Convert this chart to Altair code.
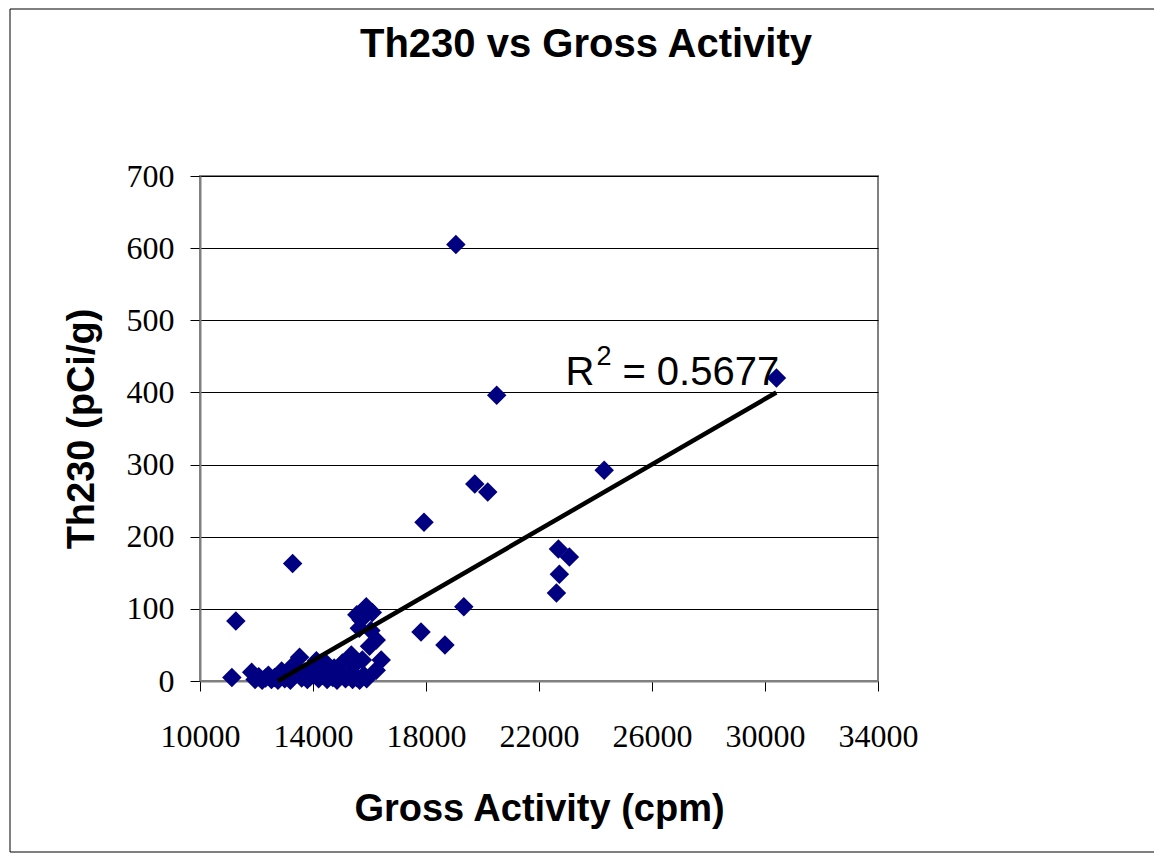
import altair as alt
import pandas as pd

# Scatter data: Gross Activity (cpm) vs Th230 (pCi/g)
gross = [
    19057, 20502, 30405, 24308, 19727, 20185, 17930, 13278, 11269, 22687,
    23075, 22722, 22617, 19339, 17824, 18670, 11128,
    15550, 15885, 16100, 15700, 15639, 16050, 16238, 16000, 16414, 16238,
    15357, 15450, 13524, 13300, 14450, 14250, 14750,
    11830, 11950, 12080, 12200, 12320, 12420, 12530, 12640, 12760, 12890,
    13000, 13100, 13200, 13400, 13600, 13700, 13800, 13900, 14000, 14120,
    14200, 14350, 14500, 14600, 14700, 14850, 15000, 15040, 15150, 15250,
    15400, 15550, 15650, 15745, 15800, 15900,
]
th230 = [
    605, 396, 420, 292, 273, 262, 220, 163, 83, 183,
    172, 148, 122, 103, 68, 50, 5,
    92, 103, 95, 85, 73, 70, 57, 48, 29, 15,
    36, 22, 33, 22, 25, 15, 18,
    12, 2, 6, 1, 4, 8, 2, 5, 1, 14,
    3, 7, 1, 10, 4, 12, 2, 6, 18, 28,
    3, 8, 2, 12, 5, 1, 9, 25, 3, 7,
    2, 5, 1, 29, 8, 3,
]

# Linear trend line (as drawn, clipped at y = 0)
trend_x = [12750, 30400]
trend_y = [0, 400]

# R² annotation (anchored in data space)
r2_x = [22934]
r2_y = [410]
r2_main = ["R"]
r2_sup = ["2"]
r2_value = ["= 0.5677"]

x_ticks = [10000, 14000, 18000, 22000, 26000, 30000, 34000]
y_ticks = [0, 100, 200, 300, 400, 500, 600, 700]

pts = pd.DataFrame({"gross": gross, "th230": th230})
trend = pd.DataFrame({"gross": trend_x, "th230": trend_y})
r2 = pd.DataFrame({"gross": r2_x, "th230": r2_y, "r": r2_main, "s": r2_sup, "v": r2_value})
one = pd.DataFrame({"t": ["Th230 vs Gross Activity"]})

W, H = 678, 505
PAD_B = 172
PAD_R = 276

xscale = alt.Scale(domain=[10000, 34000], nice=False, zero=False)
yscale = alt.Scale(domain=[0, 700], nice=False)

xaxis = alt.Axis(
    values=x_ticks, format="d", title="Gross Activity (cpm)", grid=False,
    labelFont="Liberation Serif", labelFontSize=32, labelColor="black",
    labelPadding=30, tickSize=10, tickColor="black", labelFlush=False,
    domainColor="#808080", domainWidth=2,
    titleFont="Liberation Sans", titleFontSize=38, titleFontWeight="bold",
    titleColor="black", titleX=W / 2, titleY=139, titleBaseline="alphabetic",
    titleAnchor="middle", labelOverlap=False,
)
yaxis = alt.Axis(
    values=y_ticks, format="d", title="Th230 (pCi/g)", grid=True,
    gridColor="#000000", gridWidth=1, labelFlush=False,
    labelFont="Liberation Serif", labelFontSize=32, labelColor="black",
    labelPadding=16, tickSize=10, tickColor="black",
    domainColor="#808080", domainWidth=2,
    titleFont="Liberation Sans", titleFontSize=38, titleFontWeight="bold",
    titleColor="black", titleAngle=270, titleX=-107, titleY=H / 2,
    titleBaseline="alphabetic", titleAlign="center", labelOverlap=False,
)

# Outer chart frame: left, top and bottom edges (right edge lies off-page)
FL, FT, FB, FR = -190, -167, H + PAD_B - 1, W + PAD_R + 20
frame_top = alt.Chart(one).mark_rule(color="black", strokeWidth=1).encode(
    x=alt.value(FL), x2=alt.value(FR), y=alt.value(FT))
frame_bot = alt.Chart(one).mark_rule(color="black", strokeWidth=1).encode(
    x=alt.value(FL), x2=alt.value(FR), y=alt.value(FB))
frame_left = alt.Chart(one).mark_rule(color="black", strokeWidth=1).encode(
    x=alt.value(FL), y=alt.value(FT), y2=alt.value(FB))

title = alt.Chart(one).mark_text(
    font="Liberation Sans", fontSize=40, fontWeight="bold", color="black",
    align="center", baseline="alphabetic",
).encode(x=alt.value(386), y=alt.value(-119), text="t:N")

points = alt.Chart(pts).mark_point(
    shape="diamond", filled=True, color="#000080", size=380, opacity=1
).encode(
    x=alt.X("gross:Q", scale=xscale, axis=xaxis),
    y=alt.Y("th230:Q", scale=yscale, axis=yaxis),
)

line = alt.Chart(trend).mark_line(color="black", strokeWidth=4.5).encode(
    x=alt.X("gross:Q", scale=xscale),
    y=alt.Y("th230:Q", scale=yscale),
)

base_lbl = alt.Chart(r2).encode(
    x=alt.X("gross:Q", scale=xscale),
    y=alt.Y("th230:Q", scale=yscale),
)
lbl_r = base_lbl.mark_text(
    font="Liberation Sans", fontSize=40, color="black", align="left", baseline="alphabetic"
).encode(text="r:N")
lbl_s = base_lbl.mark_text(
    font="Liberation Sans", fontSize=27, color="black", align="left", baseline="alphabetic",
    dx=31, dy=-20,
).encode(text="s:N")
lbl_v = base_lbl.mark_text(
    font="Liberation Sans", fontSize=40, color="black", align="left", baseline="alphabetic",
    dx=57,
).encode(text="v:N")

chart = alt.layer(
    frame_top, frame_bot, frame_left, points, line, lbl_r, lbl_s, lbl_v, title
).properties(
    width=W, height=H,
    autosize=alt.AutoSizeParams(type="none"),
    padding={"left": 192, "top": 168, "right": PAD_R, "bottom": PAD_B},
    background="white",
).configure_view(stroke="#808080", strokeWidth=2)

chart.save("out.html", embed_options={"renderer": "svg", "actions": False})
